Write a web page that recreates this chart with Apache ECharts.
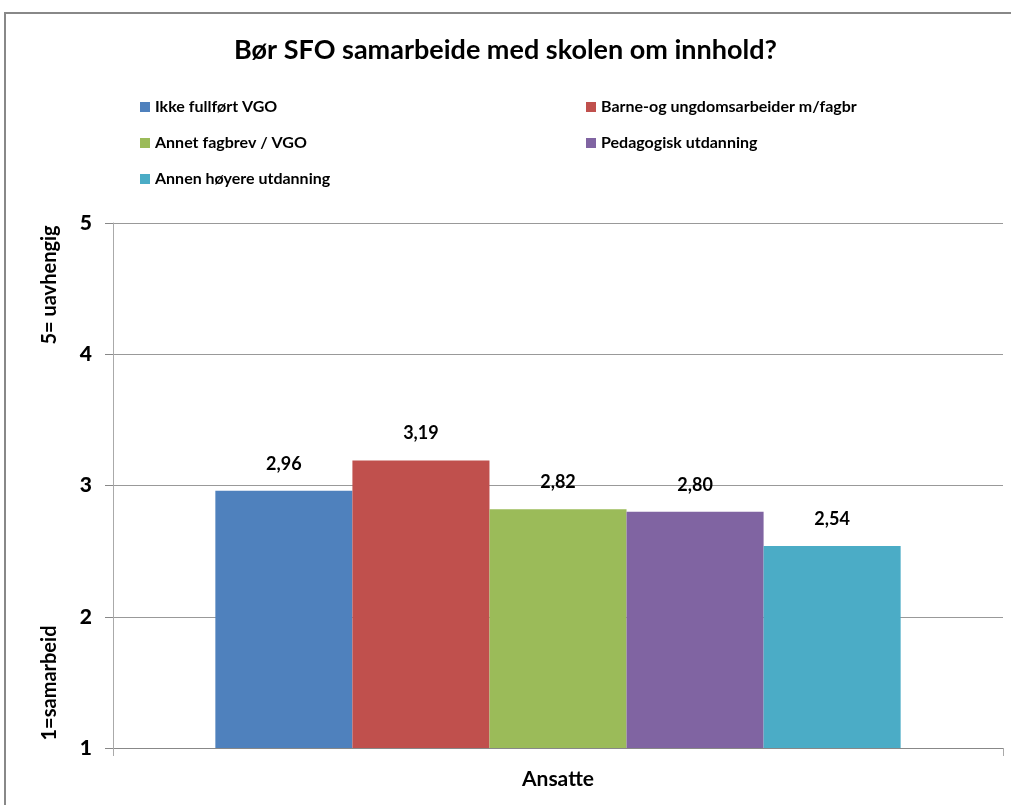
<!DOCTYPE html>
<html>
<head>
<meta charset="utf-8">
<script src="https://cdn.jsdelivr.net/npm/echarts@6/dist/echarts.min.js"></script>
<style>
  html, body { margin: 0; padding: 0; background: #fff; }
  #chart { width: 1011px; height: 805px; }
</style>
</head>
<body>
<div id="chart"></div>
<script>
// data
const categories = ["Ansatte"];
const seriesNames = [
  "Ikke fullført VGO",
  "Barne-og ungdomsarbeider m/fagbr",
  "Annet fagbrev / VGO",
  "Pedagogisk utdanning",
  "Annen høyere utdanning"
];
const seriesValues = [2.96, 3.19, 2.82, 2.80, 2.54];
const colors = ["#4F81BD", "#C0504D", "#9BBB59", "#8064A2", "#4BACC6"];
const yTop = "5= uavhengig";
const yBottom = "1=samarbeid";

const font = "Lato, 'Open Sans', sans-serif";

const chart = echarts.init(document.getElementById("chart"));

const legendText = { fontFamily: font, fontWeight: "bold", fontSize: 16, color: "#000" };

const option = {
  animation: false,
  textStyle: { fontFamily: font },
  title: {
    text: "Bør SFO samarbeide med skolen om innhold?",
    left: "center",
    top: 32,
    textStyle: { fontFamily: font, fontWeight: "bold", fontSize: 27, color: "#000" }
  },
  legend: [
    {
      data: [seriesNames[0], seriesNames[2], seriesNames[4]],
      orient: "vertical",
      left: 135,
      top: 94,
      itemGap: 20,
      itemWidth: 10,
      itemHeight: 10,
      icon: "rect",
      textStyle: legendText
    },
    {
      data: [seriesNames[1], seriesNames[3]],
      orient: "vertical",
      left: 581,
      top: 94,
      itemGap: 20,
      itemWidth: 10,
      itemHeight: 10,
      icon: "rect",
      textStyle: legendText
    }
  ],
  grid: { left: 113, right: 8, top: 223, bottom: 57 },
  xAxis: {
    type: "category",
    data: categories,
    axisLine: { lineStyle: { color: "#888", width: 1 } },
    axisTick: { show: true, length: 8, lineStyle: { color: "#aaa" } },
    axisLabel: { fontFamily: font, fontWeight: "bold", fontSize: 21, color: "#000", margin: 21 }
  },
  yAxis: {
    type: "value",
    min: 1,
    max: 5,
    interval: 1,
    axisLine: { show: true, lineStyle: { color: "#aaa" } },
    axisTick: { show: true, length: 8, lineStyle: { color: "#888" } },
    axisLabel: { fontFamily: font, fontWeight: 900, fontSize: 21, color: "#000", margin: 21 },
    splitLine: { lineStyle: { color: "#999" } }
  },
  series: seriesNames.map((name, i) => ({
    name: name,
    type: "bar",
    data: [seriesValues[i]],
    itemStyle: { color: colors[i] },
    barGap: "0%",
    barCategoryGap: "23%",
    label: {
      show: true,
      position: "top",
      distance: 18,
      fontFamily: font,
      fontWeight: "bold",
      fontSize: 18,
      color: "#000",
      formatter: p => p.value.toFixed(2).replace(".", ",")
    }
  })),
  graphic: [
    {
      type: "rect",
      shape: { x: 5, y: 13, width: 1020, height: 820 },
      style: { fill: null, stroke: "#888", lineWidth: 2 },
      silent: true
    },
    {
      type: "text",
      x: 50,
      y: 285,
      rotation: Math.PI / 2,
      style: {
        text: yTop,
        fontFamily: font,
        fontWeight: "bold",
        fontSize: 20,
        fill: "#000",
        align: "center",
        verticalAlign: "middle"
      }
    },
    {
      type: "text",
      x: 50,
      y: 683,
      rotation: Math.PI / 2,
      style: {
        text: yBottom,
        fontFamily: font,
        fontWeight: "bold",
        fontSize: 20,
        fill: "#000",
        align: "center",
        verticalAlign: "middle"
      }
    }
  ]
};

chart.setOption(option);
</script>
</body>
</html>
